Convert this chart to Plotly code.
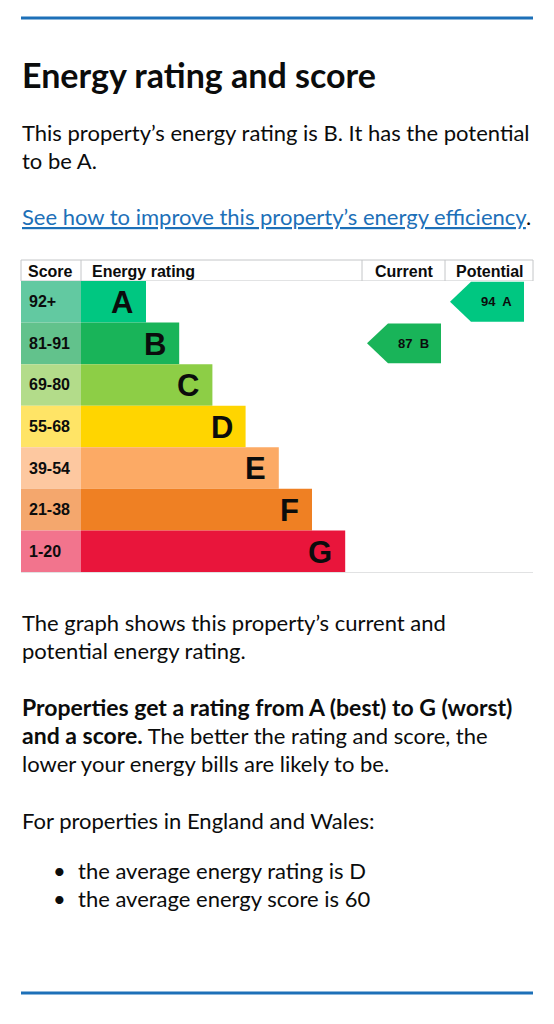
import plotly.graph_objects as go

# ---------------- data ----------------
bands = ["A", "B", "C", "D", "E", "F", "G"]
score_ranges = ["92+", "81-91", "69-80", "55-68", "39-54", "21-38", "1-20"]
band_colors = ["#00c781", "#19b459", "#8dce46", "#ffd500", "#fcaa65", "#ef8023", "#e9153b"]
score_colors = ["#62c9a1", "#62c28c", "#b3dc8a", "#ffe466", "#fdc8a0", "#f4a76d", "#f2748d"]
current_score, current_band = 87, "B"
potential_score, potential_band = 94, "A"
headers = ["Score", "Energy rating", "Current", "Potential"]

# ---------------- layout constants (pixels) ----------------
W, H = 554, 1024
LEFT, RIGHT = 21, 533
COL_SCORE_END = 81
COL_CUR = 362
COL_POT = 445
TABLE_TOP = 260
HEAD_BOT = 281
TABLE_BOT = 572
BAR_FIRST = 65
BAR_STEP = 33.2
TIP = 21
BODY_FONT = "Lato"
CHART_FONT = "Liberation Sans"
TXT = "#0b0c0c"
BLUE = "#1d70b8"
GRID = "#c4c6c8"
BODY_SIZE = 22
BOLD_SIZE = 23

n = len(bands)
idx = list(range(n))
bar_len = [BAR_FIRST + i * BAR_STEP for i in idx]

fig = go.Figure()

# score column cells
fig.add_trace(go.Bar(
    y=idx, x=[COL_SCORE_END - LEFT] * n, base=LEFT, orientation="h", width=1,
    marker=dict(color=score_colors, line=dict(width=0)),
    xaxis="x", yaxis="y2", hoverinfo="skip"))
# rating bars
fig.add_trace(go.Bar(
    y=idx, x=bar_len, base=COL_SCORE_END, orientation="h", width=1,
    marker=dict(color=band_colors, line=dict(width=0)),
    xaxis="x", yaxis="y2", hoverinfo="skip"))

annotations = []
for i in idx:
    annotations.append(dict(x=LEFT + 6, y=i, xref="x", yref="y2", text=f"<b>{score_ranges[i]}</b>",
                            xanchor="left", yanchor="middle", showarrow=False,
                            font=dict(family=CHART_FONT, size=16, color=TXT)))
    annotations.append(dict(x=COL_SCORE_END + bar_len[i] - 11, y=i + 0.02, xref="x", yref="y2",
                            text=f"<b>{bands[i]}</b>", xanchor="right", yanchor="middle",
                            showarrow=False, font=dict(family=CHART_FONT, size=31, color=TXT)))


def add_arrow(score, band, x_left, x_right):
    b = bands.index(band)
    g = 0.02
    body = x_left + TIP
    xs = [x_left, body, x_right, x_right, body, x_left]
    ys = [b, b - 0.5 + g, b - 0.5 + g, b + 0.5 - g, b + 0.5 - g, b]
    fig.add_trace(go.Scatter(x=xs, y=ys, mode="lines", fill="toself",
                             fillcolor=band_colors[b], line=dict(width=0, color=band_colors[b]),
                             xaxis="x", yaxis="y2", hoverinfo="skip"))
    annotations.append(dict(x=(body + x_right) / 2 - 1, y=b, xref="x", yref="y2",
                            text=f"<b>{score}  {band}</b>", xanchor="center", yanchor="middle",
                            showarrow=False, font=dict(family=CHART_FONT, size=13, color=TXT)))


add_arrow(current_score, current_band, COL_CUR + 5, COL_POT - 4)
add_arrow(potential_score, potential_band, COL_POT + 5, RIGHT - 9)

# header texts
hy = (TABLE_TOP + HEAD_BOT) / 2 + 0.5
for txt, x, anc in [(headers[0], LEFT + 5, "left"), (headers[1], COL_SCORE_END + 9, "left"),
                    (headers[2], (COL_CUR + COL_POT) / 2, "center"),
                    (headers[3], (COL_POT + RIGHT) / 2 + 1, "center")]:
    annotations.append(dict(x=x, y=hy, xref="x", yref="y", text=f"<b>{txt}</b>", xanchor=anc,
                            yanchor="middle", showarrow=False,
                            font=dict(family=CHART_FONT, size=16, color=TXT)))

# body text
def body(text, x, y, size=BODY_SIZE, color=TXT):
    annotations.append(dict(x=x, y=y, xref="x", yref="y", text=text, xanchor="left",
                            yanchor="middle", showarrow=False,
                            font=dict(family=BODY_FONT, size=size, color=color)))

body("<b>Energy rating and score</b>", LEFT - 1, 74, size=34)
body("This property’s energy rating is B. It has the potential", LEFT - 1, 132)
body("to be A.", LEFT - 1, 160)
body(f"<span style='color:{BLUE}'><u>See how to improve this property’s energy efficiency</u></span>.",
     LEFT - 1, 216)
body("The graph shows this property’s current and", LEFT - 1, 622)
body("potential energy rating.", LEFT - 1, 650)
body("<b>Properties get a rating from A (best) to G (worst)</b>", LEFT - 1, 707, size=BOLD_SIZE)
body(f"<b><span style='font-size:{BOLD_SIZE}px'>and a score.</span></b> The better the rating and score, the",
     LEFT - 1, 735)
body("lower your energy bills are likely to be.", LEFT - 1, 763)
body("For properties in England and Wales:", LEFT - 1, 820)
for yy, t in [(870, "the average energy rating is D"), (898, "the average energy score is 60")]:
    body("•", 51, yy)
    body(t, 76, yy)

# shapes: blue rules + table grid
shapes = [
    dict(type="line", x0=LEFT, x1=RIGHT, y0=18, y1=18, xref="x", yref="y", line=dict(color=BLUE, width=3)),
    dict(type="line", x0=LEFT, x1=RIGHT, y0=993, y1=993, xref="x", yref="y", line=dict(color=BLUE, width=3)),
]
gl = dict(color=GRID, width=1)
for (x0, y0, x1, y1) in [
    (LEFT, TABLE_TOP, RIGHT, TABLE_TOP), (LEFT, HEAD_BOT, RIGHT, HEAD_BOT),
    (LEFT, TABLE_BOT, RIGHT, TABLE_BOT),
    (LEFT, TABLE_TOP, LEFT, HEAD_BOT), (COL_SCORE_END, TABLE_TOP, COL_SCORE_END, HEAD_BOT),
    (COL_CUR, TABLE_TOP, COL_CUR, TABLE_BOT), (COL_POT, TABLE_TOP, COL_POT, TABLE_BOT),
    (RIGHT, TABLE_TOP, RIGHT, TABLE_BOT)]:
    shapes.append(dict(type="line", x0=x0, x1=x1, y0=y0, y1=y1, xref="x", yref="y", line=gl, layer="below"))

fig.update_layout(
    width=W, height=H, margin=dict(l=0, r=0, t=0, b=0),
    paper_bgcolor="white", plot_bgcolor="white", showlegend=False, barmode="overlay",
    xaxis=dict(range=[0, W], domain=[0, 1], visible=False, fixedrange=True),
    yaxis=dict(range=[H, 0], domain=[0, 1], visible=False, fixedrange=True),
    yaxis2=dict(range=[n - 0.5, -0.5], domain=[(H - TABLE_BOT) / H, (H - HEAD_BOT) / H],
                anchor="x", visible=False, fixedrange=True),
    annotations=annotations, shapes=shapes,
)

fig.write_html("out.html", config={"displayModeBar": False},
               post_script="document.body.style.margin='0';document.body.style.overflow='hidden';")
